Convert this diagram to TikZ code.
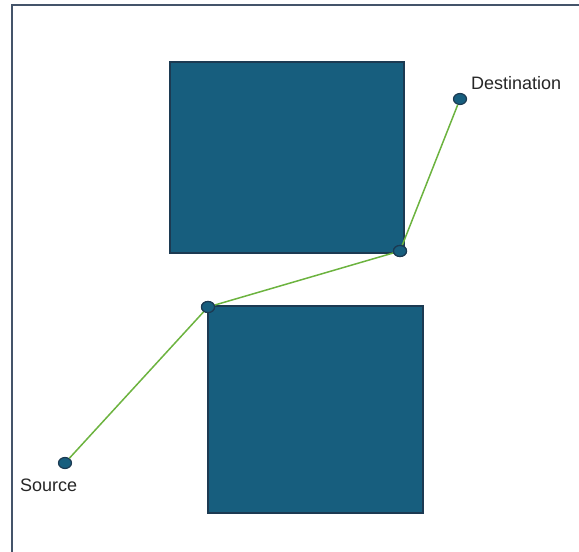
\documentclass[tikz,border=0pt]{standalone}
\usepackage{fontspec}
\setmainfont{Liberation Sans}
\usetikzlibrary{shapes.geometric}
\definecolor{blockfill}{HTML}{175E7E}
\definecolor{blockedge}{HTML}{1C3A52}
\definecolor{pathgreen}{HTML}{6CB33F}
\definecolor{framegray}{HTML}{44546A}
\tikzset{
  obstacle/.style={draw=blockedge, line width=1.3pt, fill=blockfill},
  waypoint/.style={ellipse, draw=blockedge, line width=1.2pt, fill=blockfill,
    minimum width=13pt, minimum height=11pt, inner sep=0pt},
  route/.style={draw=pathgreen, line width=1.5pt},
  tag/.style={font=\fontsize{18}{21}\selectfont, text=black!85, inner sep=0pt}
}
\begin{document}
\begin{tikzpicture}[x=1pt,y=-1pt]
\useasboundingbox (0,0) rectangle (579,552);
\begin{scope}
\clip (0,0) rectangle (579,552);
\draw[framegray, line width=2.4pt] (12,5) rectangle (600,600);
\end{scope}
% obstacles
\path[obstacle] (170,62) rectangle (404,253);
\path[obstacle] (208,306) rectangle (423,513);
% route
\node[waypoint] (src) at (65,463) {};
\node[waypoint] (w1) at (208,307) {};
\node[waypoint] (w2) at (400,251) {};
\node[waypoint] (dst) at (460,99) {};
\draw[route] (src) -- (w1) -- (w2) -- (dst);
\node[waypoint] at (w1) {};
\node[waypoint] at (w2) {};
% labels
\node[tag, anchor=west] (dstlabel) at (471,83) {Destination};
\node[tag, anchor=west] (srclabel) at (20,485) {Source};
\end{tikzpicture}
\end{document}
